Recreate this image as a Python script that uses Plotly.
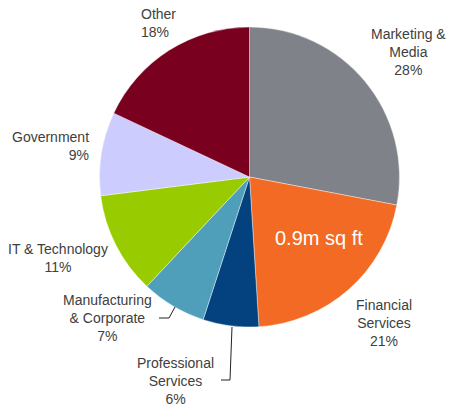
import plotly.graph_objects as go

categories = ["Marketing & Media", "Financial Services", "Professional Services",
              "Manufacturing & Corporate", "IT & Technology", "Government", "Other"]
shares = [28, 21, 6, 7, 11, 9, 18]
label_lines = [["Marketing &amp;", "Media"], ["Financial", "Services"], ["Professional", "Services"],
               ["Manufacturing", "&amp; Corporate"], ["IT &amp; Technology"], ["Government"], ["Other"]]
colors = ["#808289", "#f26a24", "#03427f", "#4f9fbb", "#99cc00", "#ccccff", "#7a001f"]
center_text = "0.9m sq ft"

W, H = 450, 408
cx, cy, r = 249.5, 177, 150

def px(x):
    return x / W

def py(y):
    return 1 - y / H

fig = go.Figure()
fig.add_trace(go.Pie(
    labels=categories, values=shares, sort=False, direction="clockwise", rotation=0,
    marker=dict(colors=colors, line=dict(color="white", width=0.4)),
    textinfo="none", hoverinfo="label+percent", showlegend=False,
    domain=dict(x=[px(cx - r), px(cx + r)], y=[py(cy + r), py(cy - r)]),
))

# label placement (pixel positions, alignment)
label_pos = [
    (408, 52, "center", "center"),
    (384, 323, "center", "center"),
    (175, 381, "center", "center"),
    (107, 318, "center", "center"),
    (58, 258, "center", "center"),
    (91, 146, "right", "right"),
    (139, 22.5, "left", "left"),
]
font = dict(family="Liberation Sans, Arial", size=14, color="#404040")
for cat_lines, val, (x, y, xa, al) in zip(label_lines, shares, label_pos):
    txt = "<br>".join(cat_lines + [f"{val}%"])
    fig.add_annotation(x=px(x), y=py(y), xref="paper", yref="paper", text=txt,
                       showarrow=False, xanchor=xa, yanchor="middle", align=al, font=font)

fig.add_annotation(x=px(319), y=py(238), xref="paper", yref="paper", text=center_text,
                   showarrow=False, xanchor="center", yanchor="middle",
                   font=dict(family="Liberation Sans, Arial", size=20, color="white"))

# leader lines
line_style = dict(color="#222222", width=1)
fig.add_shape(type="path", xref="paper", yref="paper",
              path=f"M {px(175)} {py(307)} L {px(169)} {py(318)} L {px(159)} {py(318)}",
              line=line_style)
fig.add_shape(type="path", xref="paper", yref="paper",
              path=f"M {px(232)} {py(327)} L {px(230)} {py(380)} L {px(221)} {py(380)}",
              line=line_style)

fig.update_layout(width=W, height=H, margin=dict(l=0, r=0, t=0, b=0),
                  paper_bgcolor="white", plot_bgcolor="white")
fig.write_html("out.html", config={"displayModeBar": False},
               post_script="document.body.style.margin='0';")
